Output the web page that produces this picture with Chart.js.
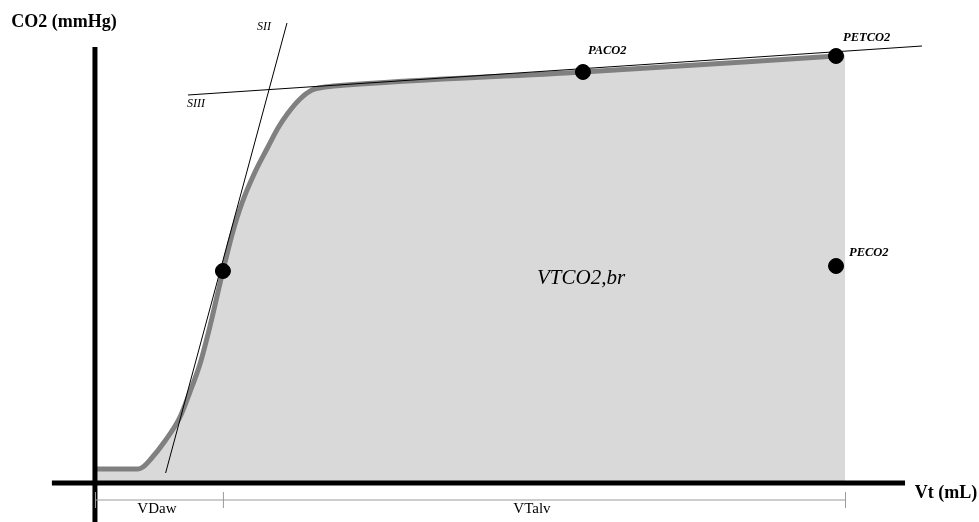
<!DOCTYPE html>
<html>
<head>
<meta charset="utf-8">
<script src="https://cdn.jsdelivr.net/npm/chart.js@4.4.1/dist/chart.umd.min.js"></script>
<style>
  body { margin: 0; background: #fff; }
  #wrap { width: 979px; height: 522px; position: relative; }
</style>
</head>
<body>
<div id="wrap"><canvas id="capno"></canvas></div>
<script>
// volumetric capnogram, values (Vt in mL, CO2 in mmHg)
var curveVol = [0, 28.7, 32, 36.7, 46.7, 56.7, 63.3, 70, 76.7, 85.3, 91.3, 98, 106.7, 115.3, 122, 128.7, 136.7, 144.7, 153.3, 163.3, 325.3, 494];
var curveCO2 = [1.4, 1.4, 1.6, 2.3, 4.2, 6.6, 9.1, 11.9, 15.7, 21.2, 24.8, 28.0, 31.1, 33.6, 35.5, 37.0, 38.4, 39.3, 39.6, 39.75, 41.1, 42.7];

// shaded area ends a bit after the last point
var areaEndVol = 500;
var areaEndCO2 = 42.8;

var markerVol = [85.3, 325.3, 494, 494];
var markerCO2 = [21.2, 41.1, 42.7, 21.7];
var markerNames = ['', 'PACO2', 'PETCO2', 'PECO2'];

// tangent lines for phase II and phase III
var s2Vol = [128, 47.1];
var s2CO2 = [46.0, 1.0];
var s3Vol = [62, 551.3];
var s3CO2 = [38.8, 43.7];

// phase split along the volume axis
var phaseEdges = [0, 85.3, 500];
var phaseNames = ['VDaw', 'VTalv'];

function pts(xs, ys) {
    var out = [];
    for (var i = 0; i < xs.length; i++) out.push({ x: xs[i], y: ys[i] });
    return out;
}

var areaPts = pts(curveVol, curveCO2);
areaPts.push({ x: areaEndVol, y: areaEndCO2 });

var serif = '"Liberation Serif", "DejaVu Serif", serif';

// axes, bracket and text
var decor = {
    id: 'decor',
    afterDatasetsDraw: function (chart) {
        var ctx = chart.ctx;
        var xs = chart.scales.x, ys = chart.scales.y;
        var px = function (v) { return xs.getPixelForValue(v); };
        var py = function (v) { return ys.getPixelForValue(v); };
        ctx.save();

        // main axes
        ctx.strokeStyle = '#000';
        ctx.lineWidth = 5;
        ctx.beginPath();
        ctx.moveTo(px(0), py(43.6));
        ctx.lineTo(px(0), py(-4));
        ctx.moveTo(px(-28.7), py(0));
        ctx.lineTo(px(540), py(0));
        ctx.stroke();

        // phase bracket
        ctx.strokeStyle = '#9a9a9a';
        ctx.lineWidth = 1;
        ctx.beginPath();
        ctx.moveTo(px(phaseEdges[0]), py(-1.7));
        ctx.lineTo(px(phaseEdges[phaseEdges.length - 1]), py(-1.7));
        phaseEdges.forEach(function (e) {
            ctx.moveTo(px(e) + 0.5, py(-0.9));
            ctx.lineTo(px(e) + 0.5, py(-2.5));
        });
        ctx.stroke();

        ctx.fillStyle = '#000';
        ctx.textAlign = 'center';
        ctx.textBaseline = 'middle';
        ctx.font = '15px ' + serif;
        for (var i = 0; i < phaseNames.length; i++) {
            ctx.fillText(phaseNames[i], (px(phaseEdges[i]) + px(phaseEdges[i + 1])) / 2 - 2, py(-2.6));
        }

        // axis titles
        ctx.font = 'bold 18px ' + serif;
        ctx.fillText('CO2 (mmHg)', 64, 22);
        ctx.fillText('Vt (mL)', 946, 493);

        // tangent names
        ctx.font = 'italic 12px ' + serif;
        ctx.fillText('SII', 264, 27);
        ctx.fillText('SIII', 196, 104);

        // point names
        ctx.font = 'bold italic 12.5px ' + serif;
        ctx.textAlign = 'left';
        ctx.fillText(markerNames[1], px(markerVol[1]) + 5, py(markerCO2[1]) - 21);
        ctx.fillText(markerNames[2], px(markerVol[2]) + 7, py(markerCO2[2]) - 18);
        ctx.fillText(markerNames[3], px(markerVol[3]) + 13, py(markerCO2[3]) - 13);

        ctx.textAlign = 'center';
        ctx.font = 'italic 21px ' + serif;
        ctx.fillText('VTCO2,br', 581, 278);
        ctx.restore();
    }
};

new Chart(document.getElementById('capno'), {
    type: 'scatter',
    data: {
        datasets: [{
            data: areaPts,
            showLine: true,
            borderWidth: 0,
            borderColor: 'rgba(0,0,0,0)',
            backgroundColor: '#d9d9d9',
            fill: 'origin',
            pointRadius: 0,
            cubicInterpolationMode: 'monotone',
            order: 10
        }, {
            data: pts(curveVol, curveCO2),
            showLine: true,
            borderColor: '#808080',
            borderWidth: 5,
            pointRadius: 0,
            fill: false,
            cubicInterpolationMode: 'monotone',
            order: 5
        }, {
            data: pts(s2Vol, s2CO2),
            showLine: true,
            borderColor: '#000',
            borderWidth: 1,
            pointRadius: 0,
            fill: false,
            order: 3
        }, {
            data: pts(s3Vol, s3CO2),
            showLine: true,
            borderColor: '#000',
            borderWidth: 1,
            pointRadius: 0,
            fill: false,
            order: 3
        }, {
            data: pts(markerVol, markerCO2),
            showLine: false,
            pointRadius: 7.5,
            pointBackgroundColor: '#000',
            pointBorderColor: '#000',
            order: 0
        }]
    },
    options: {
        responsive: true,
        maintainAspectRatio: false,
        animation: false,
        layout: { padding: 0, autoPadding: false },
        plugins: {
            legend: { display: false },
            tooltip: { enabled: false }
        },
        scales: {
            x: { type: 'linear', min: -63.3, max: 589.3, display: false },
            y: { type: 'linear', min: -3.9, max: 48.3, display: false }
        }
    },
    plugins: [decor]
});
</script>
</body>
</html>
